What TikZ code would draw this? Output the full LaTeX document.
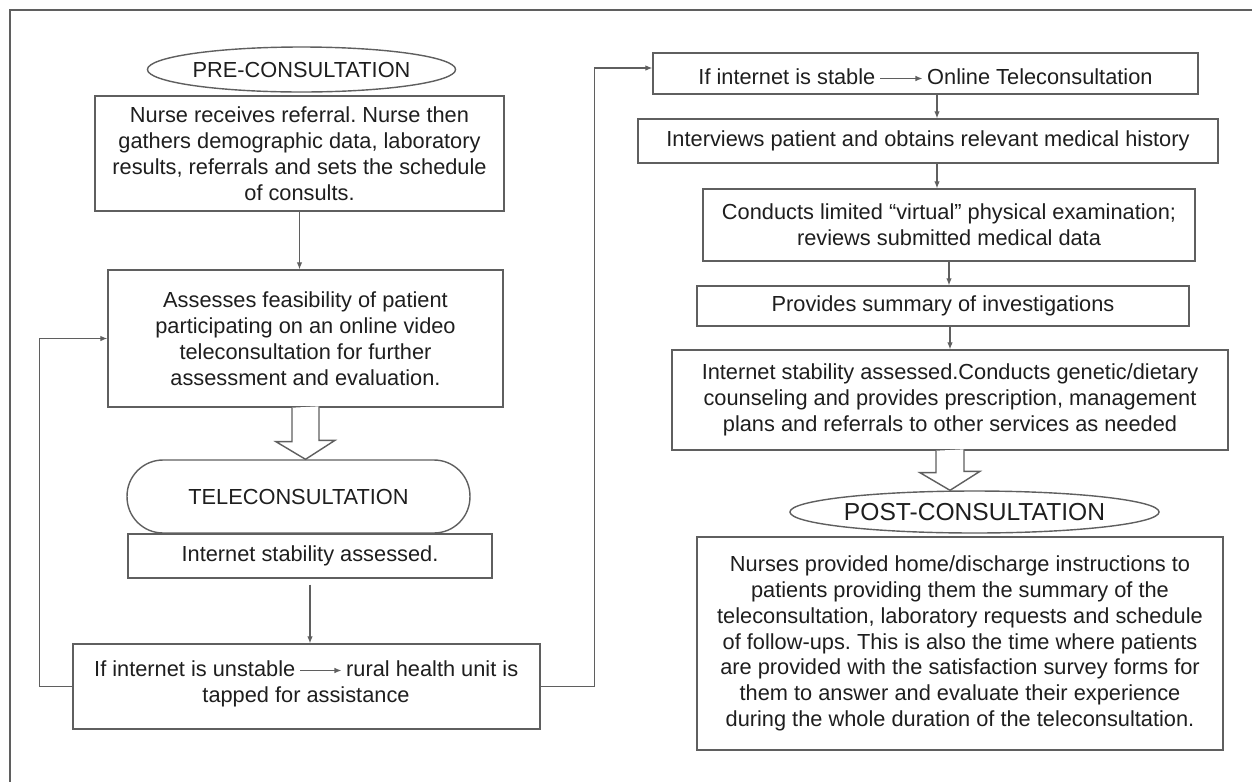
\documentclass[tikz,border=0pt]{standalone}
\usepackage{fontspec}
\setmainfont{Liberation Sans}
\usetikzlibrary{shapes.geometric,arrows.meta,positioning}
\definecolor{linegray}{HTML}{5F5F5F}
\definecolor{textgray}{HTML}{1E1E1E}
\frenchspacing

\begin{document}
\begin{tikzpicture}[x=0.02cm,y=-0.02cm,
    font=\fontsize{12.4}{14.7}\selectfont,
    box/.style={draw=linegray,line width=0.8pt,text=textgray,align=center,inner sep=0pt},
    oval/.style={box,ellipse},
    txt/.style={text=textgray,inner xsep=2.5pt,inner ysep=0pt,text height=0.72em,text depth=0pt},
    arr/.style={draw=linegray,line width=0.7pt,-{Latex[length=4pt,width=3.2pt]}},
    fat/.style={draw=linegray,line width=0.8pt,fill=white}]
    % Frame
    \useasboundingbox (0,0) rectangle (1252,782);
    \draw[linegray,line width=0.9pt] (1252,10) -- (10,10) -- (10,782);

    % Pre-consultation and teleconsultation
    \node[oval,minimum width=5.9cm,minimum height=0.9cm] (pre) at (301.5,69.5) {PRE-CONSULTATION};
    \node[box,minimum width=8.18cm,minimum height=2.3cm] (nurse) at (299.5,153.5) {Nurse receives referral. Nurse then\\gathers demographic data, laboratory\\results, referrals and sets the schedule\\of consults.};
    \node[box,minimum width=7.9cm,minimum height=2.74cm] (assess) at (305.5,338.5) {Assesses feasibility of patient\\participating on an online video\\teleconsultation for further\\assessment and evaluation.};
    \node[box,rounded corners=0.72cm,minimum width=6.86cm,minimum height=1.46cm] (tele) at (298.5,496.5) {TELECONSULTATION};
    \node[box,minimum width=7.28cm,minimum height=0.88cm] (stab) at (310,556) {Internet stability assessed.};
    \node[box,minimum width=9.34cm,minimum height=1.7cm] (unst) at (306.5,686.5) {};
    \node[txt,anchor=east] (un1) at (300,670.5) {If internet is unstable};
    \node[txt,right=0.83cm of un1] (un2) {rural health unit is};
    \node[txt] (un3) at (306,696.5) {tapped for assistance};

    % Online teleconsultation and post-consultation
    \node[box,minimum width=10.9cm,minimum height=0.82cm] (stable) at (925.5,73.5) {};
    \node[txt,anchor=east] (st1) at (880,78.5) {If internet is stable};
    \node[txt,right=0.85cm of st1] (st2) {Online Teleconsultation};
    \node[box,minimum width=11.6cm,minimum height=0.88cm] (intv) at (928,141) {Interviews patient and obtains relevant medical history};
    \node[box,minimum width=9.84cm,minimum height=1.44cm] (exam) at (949,225) {Conducts limited “virtual” physical examination;\\reviews submitted medical data};
    \node[box,minimum width=9.84cm,minimum height=0.8cm] (summ) at (943,306) {Provides summary of investigations};
    \node[box,minimum width=11.12cm,minimum height=2.0cm] (coun) at (950,400) {Internet stability assessed.Conducts genetic/dietary\\counseling and provides prescription, management\\plans and referrals to other services as needed};
    \node[oval,font=\fontsize{14}{16}\selectfont,minimum width=6.82cm,minimum height=0.84cm] (post) at (974.5,512) {POST-CONSULTATION};
    \node[box,minimum width=10.52cm,minimum height=4.26cm] (home) at (960,643.5) {Nurses provided home/discharge instructions to\\patients providing them the summary of the\\teleconsultation, laboratory requests and schedule\\of follow-ups. This is also the time where patients\\are provided with the satisfaction survey forms for\\them to answer and evaluate their experience\\during the whole duration of the teleconsultation.};

    % Arrows
    \coordinate (rc) at (937,0);
    \draw[arr] (nurse.south) -- (nurse.south |- assess.north);
    \draw[arr,shorten <=0.12cm] (stab.south) -- (stab.south |- unst.north);
    \draw[arr] (unst.west) -- ++(-33,0) |- (assess.west);
    \draw[arr] (unst.east) -- ++(54,0) |- ([yshift=0.11cm]stable.west);
    \draw[arr] (un1) -- (un2);
    \draw[arr] (st1) -- (st2);
    \draw[arr] (rc |- stable.south) -- (rc |- intv.north);
    \draw[arr] (rc |- intv.south) -- (rc |- exam.north);
    \draw[arr] (exam.south) -- (exam.south |- summ.north);
    \draw[arr] (coun.north |- summ.south) -- (coun.north);

    % Block arrows
    \draw[fat] (assess.south) ++(-13.5,0) -- ++(0,34) -- ++(-16,0) -- (assess.south |- tele.north) -- ++(29.5,-19) -- ++(-16,0) -- ++(0,-34);
    \draw[fat] (coun.south) ++(-14,0) -- ++(0,22) -- ++(-16,0) -- (coun.south |- post.north) -- ++(30,-19) -- ++(-16,0) -- ++(0,-22);
\end{tikzpicture}
\end{document}
